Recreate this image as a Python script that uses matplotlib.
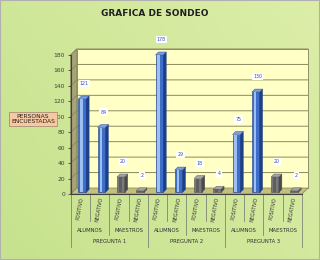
import numpy as np
import matplotlib.pyplot as plt
from matplotlib.patches import Polygon

# datos de la encuesta
preguntas = ['PREGUNTA 1', 'PREGUNTA 2', 'PREGUNTA 3']
grupos = ['ALUMNOS', 'MAESTROS']
respuestas = ['POSITIVO', 'NEGATIVO']
valores = [121, 84, 20, 2, 178, 29, 18, 4, 75, 130, 20, 2]
es_alumno = [True, True, False, False] * 3

W, H = 320, 260
fig = plt.figure(figsize=(W / 100, H / 100), dpi=100)

# fondo verde degradado
bg = fig.add_axes([0, 0, 1, 1])
yy, xx = np.mgrid[0:1:100j, 0:1:100j]
grad = 0.6 * xx + 0.4 * yy
c1 = np.array([198, 226, 142]) / 255
c2 = np.array([220, 238, 168]) / 255
img = c1[None, None, :] * (1 - grad[..., None]) + c2[None, None, :] * grad[..., None]
bg.imshow(img, extent=[0, 1, 0, 1], aspect='auto', origin='lower')
bg.set_xlim(0, 1)
bg.set_ylim(0, 1)
bg.axis('off')
bg.add_patch(plt.Rectangle((0, 0), 1, 1, fill=False, ec='#b0b0b0', lw=1.5))

x0, y0 = 70.7, 194
pw, ph = 231.3, 139
ax = fig.add_axes([x0 / W, (H - y0) / H, pw / W, ph / H])
ax.set_xlim(0, 12)
ax.set_ylim(0, 180)
ax.patch.set_alpha(0)
for s in ['top', 'right', 'bottom']:
    ax.spines[s].set_visible(False)
ax.spines['left'].set_color('#404040')
ax.spines['left'].set_linewidth(0.8)

dx = 6 / (pw / 12)
dy = 6 / (ph / 180)

# paredes 3D
ax.add_patch(Polygon([(dx, dy), (12 + dx, dy), (12 + dx, 180 + dy), (dx, 180 + dy)],
                     closed=True, fc='#ffffc6', ec='#808060', lw=0.6, clip_on=False, zorder=0))
ax.add_patch(Polygon([(0, 0), (dx, dy), (dx, 180 + dy), (0, 180)],
                     closed=True, fc='#a8a478', ec='#808060', lw=0.5, clip_on=False, zorder=0))
ax.add_patch(Polygon([(0, 0), (12, 0), (12 + dx, dy), (dx, dy)],
                     closed=True, fc='#c4c07c', ec='#808060', lw=0.5, clip_on=False, zorder=1))
for t in range(20, 181, 20):
    ax.plot([0, dx, 12 + dx], [t, t + dy, t + dy], color='#8a8a60', lw=0.7,
            clip_on=False, zorder=0.5)

ax.set_yticks(range(0, 181, 20))
ax.tick_params(axis='y', labelsize=4.3, length=2, width=0.6, colors='#404040', pad=2)
ax.set_xticks([])

# barras
w = 0.4
ox, oy = 0.1, 2.0
bdx, bdy = 3 / (pw / 12), 3 / (ph / 180)
for i, v in enumerate(valores):
    c = i + 0.5
    if es_alumno[i]:
        front, side, top, hi = '#3d6fc8', '#1c3f8a', '#7aa0e0', '#9cc0f4'
    else:
        front, side, top, hi = '#7a7a7a', '#4a4a4a', '#a4a4a4', '#5e5e5e'
    L = c - w / 2 + ox
    R = c + w / 2 + ox
    ax.bar(c + ox, v, width=w, bottom=oy, color=front, edgecolor=side, linewidth=0.4, zorder=3)
    ax.bar(c + ox - w * 0.08, v * 0.96 if not es_alumno[i] else v, width=w * 0.35,
           bottom=oy if es_alumno[i] else oy + v * 0.02, color=hi, linewidth=0, zorder=3.1)
    ax.add_patch(Polygon([(R, oy), (R + bdx, oy + bdy), (R + bdx, oy + v + bdy), (R, oy + v)],
                         closed=True, fc=side, ec=side, lw=0.3, zorder=3, clip_on=False))
    ax.add_patch(Polygon([(L, oy + v), (R, oy + v), (R + bdx, oy + v + bdy), (L + bdx, oy + v + bdy)],
                         closed=True, fc=top, ec=side, lw=0.3, zorder=3, clip_on=False))
    ax.text(c + 0.2, v + 22, str(v), fontsize=3.4, color='#3050b0', ha='center', va='center',
            bbox=dict(boxstyle='square,pad=0.25', fc='white', ec='none'), zorder=5, clip_on=False)

# eje de categorias multinivel
ax.plot([0, 12], [0, 0], color='#404040', lw=0.8, clip_on=False, zorder=4)
sc = 180 / ph
for k in range(13):
    if k % 4 == 0:
        bot = (y0 - 247) * sc
    elif k % 2 == 0:
        bot = (y0 - 235) * sc
    else:
        bot = (y0 - 221) * sc
    ax.plot([k, k], [0, bot], color='#707070', lw=0.5, clip_on=False)
for i in range(12):
    ax.text(i + 0.5, (y0 - 197) * sc, respuestas[i % 2], rotation=80, fontsize=3.5,
            ha='center', va='top', color='#303030', clip_on=False, rotation_mode='default')
for j in range(6):
    ax.text(2 * j + 1, (y0 - 230) * sc, grupos[j % 2], fontsize=3.8,
            ha='center', va='center', color='#303030', clip_on=False)
for j in range(3):
    ax.text(4 * j + 2, (y0 - 241.5) * sc, preguntas[j], fontsize=3.8,
            ha='center', va='center', color='#303030', clip_on=False)

fig.text(155 / W, 1 - 13 / H, 'GRAFICA DE SONDEO', fontsize=6.5, fontweight='bold',
         ha='center', va='center', color='#202020')
fig.text(33 / W, 1 - 119 / H, 'PERSONAS\nENCUESTADAS', fontsize=4.3, ha='center', va='center',
         color='#202020', linespacing=1.0,
         bbox=dict(boxstyle='square,pad=0.3', fc='#f8c8a0', ec='#a08070', lw=0.5))

fig.savefig('out.png', dpi=100)
